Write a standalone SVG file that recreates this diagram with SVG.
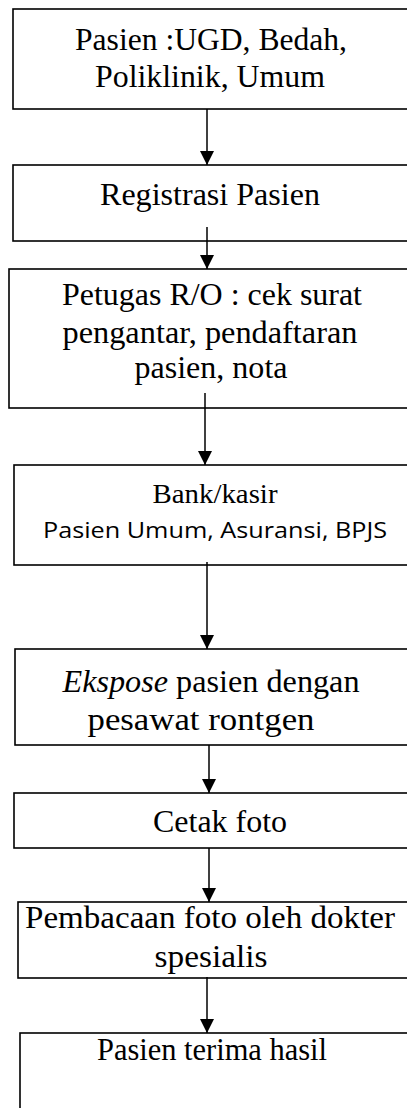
<svg xmlns="http://www.w3.org/2000/svg" width="407" height="1108" viewBox="0 0 407 1108">
<style>
.box{fill:#fff;stroke:#000;stroke-width:1.6}
.t{font-family:"Liberation Serif","Times New Roman",serif;font-size:32px;fill:#000;text-anchor:middle}
.s{font-family:"Open Sans","Liberation Sans",sans-serif;font-size:21px;fill:#000;text-anchor:middle}
.c{stroke:#000;stroke-width:1.5;fill:none}
</style>
<defs>
<marker id="ah" markerUnits="userSpaceOnUse" markerWidth="16" markerHeight="16" viewBox="0 0 16 16" refX="14" refY="8" orient="auto">
<path d="M0,1 L14,8 L0,15 Z" fill="#000"/>
</marker>
</defs>
<rect width="407" height="1108" fill="#fff"/>
<g id="n1"><rect class="box" x="13" y="9" width="410" height="100"/>
<text class="t" x="211" y="50" textLength="272" lengthAdjust="spacingAndGlyphs">Pasien :UGD, Bedah,</text>
<text class="t" x="210" y="87" textLength="230" lengthAdjust="spacingAndGlyphs">Poliklinik, Umum</text></g>
<g id="n2"><rect class="box" x="13" y="165" width="410" height="76"/>
<text class="t" x="210" y="205" textLength="220" lengthAdjust="spacingAndGlyphs">Registrasi Pasien</text></g>
<g id="n3"><rect class="box" x="9" y="269" width="410" height="139"/>
<text class="t" x="212" y="305" textLength="300" lengthAdjust="spacingAndGlyphs">Petugas R/O : cek surat</text>
<text class="t" x="210" y="343" textLength="295" lengthAdjust="spacingAndGlyphs">pengantar, pendaftaran</text>
<text class="t" x="211" y="378" textLength="153" lengthAdjust="spacingAndGlyphs">pasien, nota</text></g>
<g id="n4"><rect class="box" x="14" y="465" width="410" height="100"/>
<text class="t" x="215" y="503" style="font-size:28px" textLength="125" lengthAdjust="spacingAndGlyphs">Bank/kasir</text>
<text class="s" x="215" y="538" textLength="344" lengthAdjust="spacingAndGlyphs">Pasien Umum, Asuransi, BPJS</text></g>
<g id="n5"><rect class="box" x="15" y="649" width="410" height="96"/>
<text class="t" x="211" y="692" textLength="297" lengthAdjust="spacingAndGlyphs"><tspan font-style="italic">Ekspose</tspan> pasien dengan</text>
<text class="t" x="201" y="730" textLength="227" lengthAdjust="spacingAndGlyphs">pesawat rontgen</text></g>
<g id="n6"><rect class="box" x="14" y="793" width="410" height="55"/>
<text class="t" x="220" y="832" textLength="134" lengthAdjust="spacingAndGlyphs">Cetak foto</text></g>
<g id="n7"><rect class="box" x="18" y="902" width="410" height="76"/>
<text class="t" x="210" y="928" textLength="370" lengthAdjust="spacingAndGlyphs">Pembacaan foto oleh dokter</text>
<text class="t" x="211" y="967" textLength="113" lengthAdjust="spacingAndGlyphs">spesialis</text></g>
<g id="n8"><rect class="box" x="20" y="1033" width="410" height="120"/>
<text class="t" x="212" y="1060" textLength="230" lengthAdjust="spacingAndGlyphs">Pasien terima hasil</text></g>
<g id="connectors">
<line class="c" x1="207" y1="109" x2="207" y2="165" marker-end="url(#ah)"/>
<line class="c" x1="207" y1="227" x2="207" y2="269" marker-end="url(#ah)"/>
<line class="c" x1="205" y1="393" x2="205" y2="465" marker-end="url(#ah)"/>
<line class="c" x1="207" y1="562" x2="207" y2="649" marker-end="url(#ah)"/>
<line class="c" x1="209" y1="745" x2="209" y2="793" marker-end="url(#ah)"/>
<line class="c" x1="209" y1="848" x2="209" y2="902" marker-end="url(#ah)"/>
<line class="c" x1="207" y1="977" x2="207" y2="1033" marker-end="url(#ah)"/>
</g>
</svg>
